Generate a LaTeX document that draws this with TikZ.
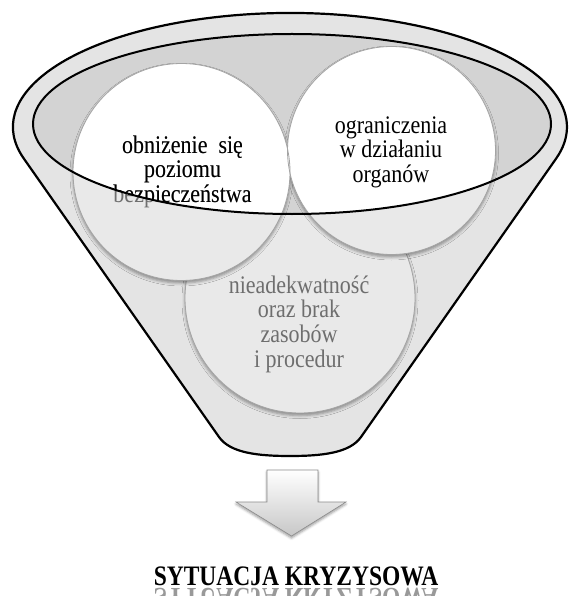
\documentclass[tikz,border=0pt]{standalone}
\usepackage{fontspec}
\setmainfont{Liberation Serif}
\usepackage{graphicx}
\usetikzlibrary{shadows.blur}

\definecolor{funnelgray}{HTML}{E4E4E4}
\definecolor{rimgray}{HTML}{D3D3D3}
\definecolor{discgray}{HTML}{E9E9E9}
\definecolor{edgegray}{HTML}{A4A4A4}
\definecolor{softink}{HTML}{6E6E6E}

% centred lines, stretched vertically by #1
\newcommand\stretchlines[2]{\scalebox{1}[#1]{\begin{tabular}{@{}c@{}}#2\end{tabular}}}

\tikzset{
  funnelshape/.style={insert path={
    (23.7,158.4) arc[start angle=164, end angle=376, x radius=277, y radius=114]
    -- (361,437) .. controls (349.8,453) and (322,456) .. (290,456)
    .. controls (258,456) and (230.2,453) .. (219,437) -- cycle}},
  rimshape/.style={insert path={(292,124) ellipse[x radius=259, y radius=90]}},
  leftdisc/.style={insert path={(181.5,172) circle[radius=108.5]}},
  rightdisc/.style={insert path={(391.5,150.5) circle[radius=104]}},
  lowdisc/.style={insert path={(300,298) circle[radius=115]}},
  disc/.style={fill=discgray,
    blur shadow={shadow xshift=0pt, shadow yshift=-2.5pt,
                 shadow blur radius=3pt, shadow opacity=40}},
  discedge/.style={draw=edgegray, line width=0.8pt},
  circletext/.style={inner sep=0pt, font=\fontsize{22}{21}\selectfont},
  outline/.style={draw=black, line width=2.2pt},
  blockarrow/.style={top color=white, bottom color=black!22, draw=black!45,
    line width=0.6pt, line join=miter,
    blur shadow={shadow xshift=0pt, shadow yshift=-2pt,
                 shadow blur radius=2.5pt, shadow opacity=40}},
  titletext/.style={inner sep=0pt, font=\fontsize{23.5}{24}\selectfont\bfseries},
}

\begin{document}
\begin{tikzpicture}[x=1pt,y=-1pt]
\useasboundingbox (0,0) rectangle (568,596);
\clip (0,0) rectangle (568,596);

% funnel body and the darker bowl inside the rim
\fill[funnelgray][funnelshape];
\path[disc][lowdisc];
\path[discedge][lowdisc];
\fill[rimgray][rimshape];

% the two upper discs, white where they lie inside the rim
\path[disc][leftdisc];
\path[disc][rightdisc];
\begin{scope}
  \clip[rimshape];
  \fill[white][leftdisc];
  \fill[white][rightdisc];
\end{scope}
\path[discedge][leftdisc];
\path[discedge][rightdisc];

% labels: grey outside the rim, black inside it
\node[circletext, text=softink] (safety) at (182.5,173)
  {\stretchlines{1.15}{obniżenie~ się\\poziomu\\bezpieczeństwa}};
\node[circletext, text=softink, font=\fontsize{22}{20.3}\selectfont] (resources) at (299,325)
  {\stretchlines{1.15}{nieadekwatność\\oraz brak\\zasobów\\i procedur}};
\begin{scope}
  \clip[rimshape];
  \node[circletext, text=black] (safetyink) at (182.5,173)
    {\stretchlines{1.15}{obniżenie~ się\\poziomu\\bezpieczeństwa}};
  \node[circletext, text=black] (organs) at (391,153)
    {\stretchlines{1.15}{ograniczenia\\w działaniu\\organów}};
\end{scope}

% funnel outlines
\path[outline][funnelshape];
\path[outline, line width=2pt][rimshape];

% outlet arrow
\path[blockarrow] (267,470) -- (318,470) -- (318,502) -- (346,502)
  -- (291.5,536) -- (236,502) -- (267,502) -- cycle;

% result label and its reflection
\node[titletext] (crisis) at (296,580) {\stretchlines{1.2}{SYTUACJA KRYZYSOWA}};
\node[titletext, text=black!40] (crisisecho) at (296,594.3)
  {\stretchlines{-1.2}{SYTUACJA KRYZYSOWA}};
\end{tikzpicture}
\end{document}
